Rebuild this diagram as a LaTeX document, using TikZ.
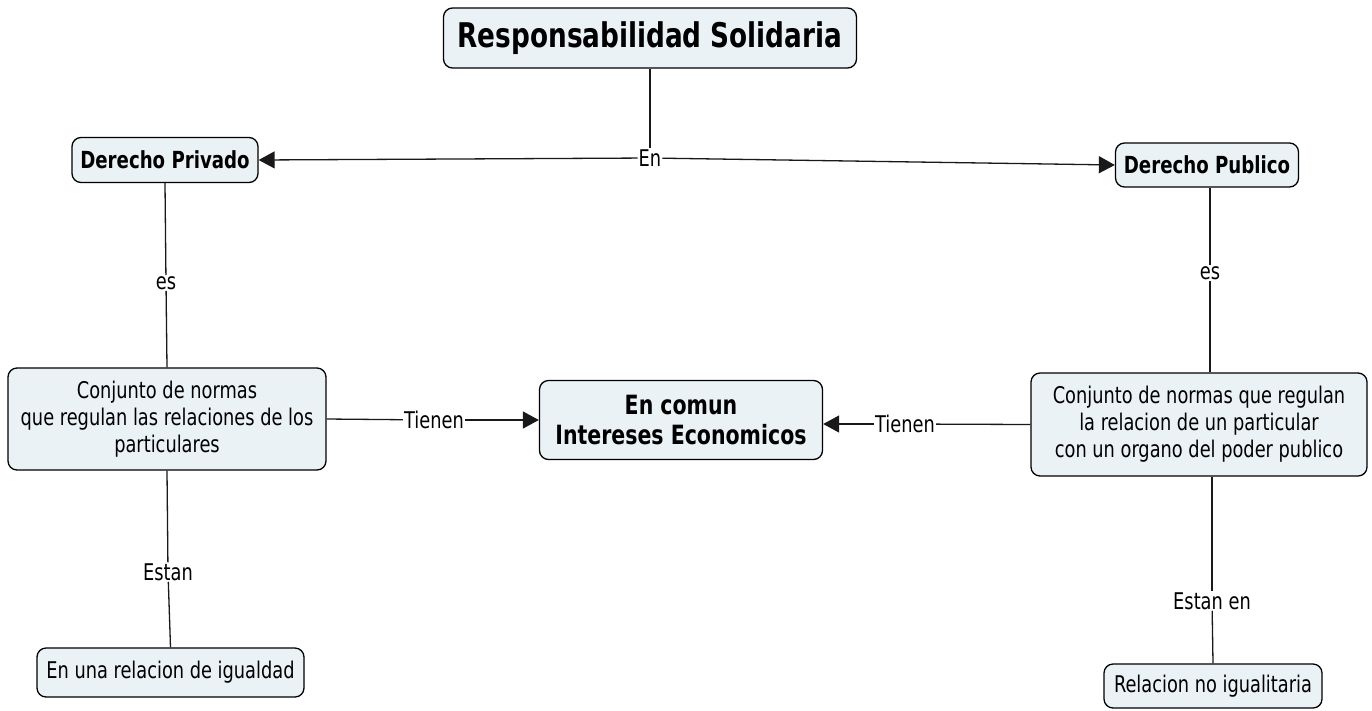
\documentclass[tikz,border=0pt]{standalone}
\usepackage{fontspec}
\setmainfont{DejaVu Sans Condensed}
\newfontfamily\fnarrow[FakeStretch=0.86]{DejaVu Sans Condensed}
\usetikzlibrary{arrows.meta}
\definecolor{boxfill}{HTML}{EAF2F5}
\tikzset{
  concept/.style={draw=black, line width=1.3pt, fill=boxfill, rounded corners=9pt, align=center, inner sep=0pt},
  lbl/.style={inner sep=1pt, font=\fnarrow\fontsize{23}{26}\selectfont},
  link/.style={line width=1.3pt, draw=black!90},
  arr/.style={link, -{Triangle[length=16pt,width=17pt]}},
  norm/.style={font=\fnarrow\fontsize{23}{27}\selectfont},
  bld/.style={font=\fnarrow\bfseries\fontsize{23.5}{28}\selectfont},
}
\begin{document}
\begin{tikzpicture}[x=1pt,y=-1pt]
\useasboundingbox (0,0) rectangle (1372,710);
\fill[white] (0,0) rectangle (1372,710);
% concepts
\node[concept, minimum width=413pt, minimum height=60pt, font=\fnarrow\bfseries\fontsize{34}{38}\selectfont] (rs) at (650,38) {Responsabilidad Solidaria};
\node[concept, bld, minimum width=186pt, minimum height=45pt] (dpriv) at (165,160) {Derecho Privado};
\node[concept, bld, minimum width=183pt, minimum height=44pt] (dpub) at (1207,165) {Derecho Publico};
\node[concept, norm, minimum width=318pt, minimum height=102pt] (cl) at (167,419) {Conjunto de normas\\que regulan las relaciones de los\\particulares};
\node[concept, font=\fnarrow\bfseries\fontsize{26.5}{30}\selectfont, minimum width=283pt, minimum height=79pt] (cc) at (681,420) {En comun\\Intereses Economicos};
\node[concept, norm, minimum width=336pt, minimum height=103pt] (cr) at (1199,424.5) {Conjunto de normas que regulan\\la relacion de un particular\\con un organo del poder publico};
\node[concept, norm, minimum width=267pt, minimum height=49pt] (bl) at (170.5,672.5) {En una relacion de igualdad};
\node[concept, norm, minimum width=218pt, minimum height=44pt] (br) at (1213,686) {Relacion no igualitaria};
% labels
\node[lbl] (en) at (650,158) {En};
\node[lbl] (es1) at (166,283) {es};
\node[lbl] (es2) at (1210,273) {es};
\node[lbl] (t1) at (434,420) {Tienen};
\node[lbl] (t2) at (905,424) {Tienen};
\node[lbl] (e1) at (168,572) {Estan};
\node[lbl] (e2) at (1212,601) {Estan en};
% connectors
\draw[link] (rs.south) -- (en);
\draw[arr] (en) -- (dpriv.east);
\draw[arr] (en) -- (dpub.west);
\draw[link] (dpriv.south) -- (es1);
\draw[link] (es1) -- (cl.north);
\draw[link] (dpub.south -| es2) -- (es2);
\draw[link] (es2) -- (cr.north -| es2);
\draw[link] (cl.east) -- (t1);
\draw[arr] (t1) -- (cc.west);
\draw[link] (cr.west) -- (t2);
\draw[arr] (t2) -- (cc.east |- t2);
\draw[link] (cl.south) -- (e1);
\draw[link] (e1) -- (bl.north);
\draw[link] (cr.south -| e2) -- (e2);
\draw[link] (e2) -- (br.north);
\end{tikzpicture}
\end{document}
